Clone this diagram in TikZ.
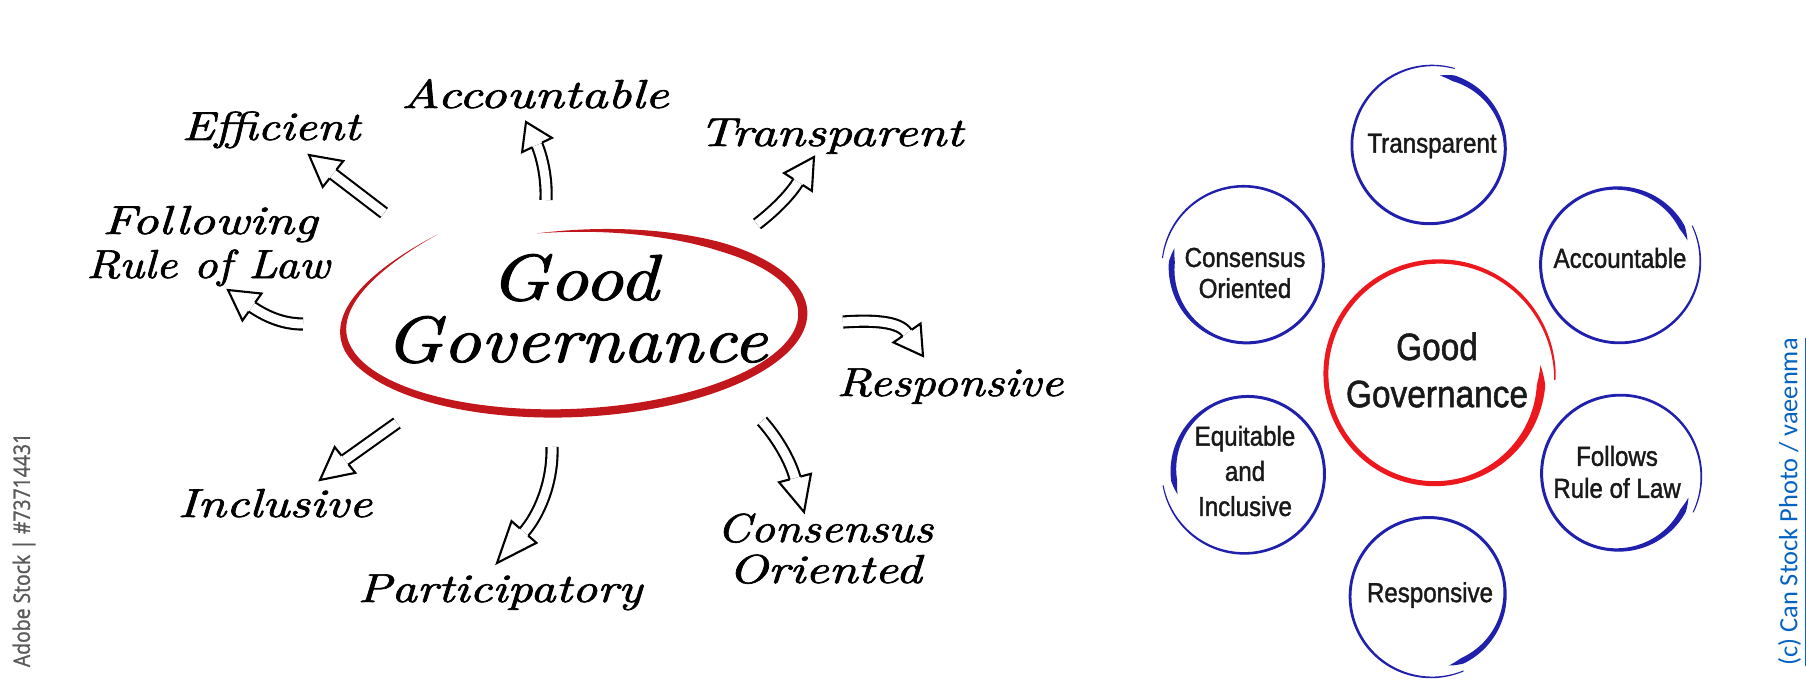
\documentclass[tikz,border=0pt]{standalone}
\usepackage{fontspec}
\usepackage{graphicx}
\usetikzlibrary{calc}

\newfontfamily\handfont{lmroman10-italic.otf}[FakeBold=1.5]
\newfontfamily\ringfont{Liberation Sans}[FakeBold=1.5]
\newfontfamily\stockfont{Open Sans}[FakeBold=1.2]
\newfontfamily\creditfont{Carlito}

\definecolor{ellred}{RGB}{192,22,28}
\definecolor{ringblue}{RGB}{32,32,172}
\definecolor{ringred}{RGB}{236,24,30}
\definecolor{creditblue}{RGB}{5,99,193}
\definecolor{stockgray}{RGB}{90,90,90}

% stretch a word horizontally to a given width, keeping its height
\newcommand\fitw[2]{\resizebox{#1}{\height}{#2}}
% slightly condensed line for the sans labels
\newcommand\narrow[1]{\scalebox{0.88}[1]{#1}}

% width of a brush ring along its length (s in 0..1): thick start, thin end
\pgfmathdeclarefunction{brushw}{4}{%
  \begingroup
    \pgfmathparse{(#2+#3*max(0,1-#1/0.22)-(#2-#4)*#1*#1*#1*#1*#1*#1)*min(1,#1/0.03)}%
    \pgfmathsmuggle\pgfmathresult
  \endgroup}

% width and vertical radius of the hand-drawn ellipse (t in degrees)
\pgfmathdeclarefunction{ellw}{1}{%
  \begingroup
    \pgfmathsetmacro\ellu{(#1-262)/333}%
    \pgfmathparse{(10-3*\ellu)*min(1,\ellu/0.15)*min(1,(1-\ellu)/0.2)}%
    \pgfmathsmuggle\pgfmathresult
  \endgroup}
\pgfmathdeclarefunction{ellry}{1}{%
  \begingroup
    \pgfmathsetmacro\ellu{(#1-262)/333}%
    \pgfmathsetmacro\ellm{max(0,(\ellu-0.75)/0.25)}%
    \pgfmathparse{91*(1+0.25*\ellm*\ellm)}%
    \pgfmathsmuggle\pgfmathresult
  \endgroup}

% #1 centre, #2 radius, #3 start angle, #4 sweep, #5 radial drift,
% #6 colour, #7 normal width, #8 extra width at start, #9 width at end
\newcommand\brushring[9]{%
  \fill[#6, shift={(#1)}]
    plot[domain=0:1, samples=200, variable=\s] ({(#2-#5/2+#5*\s+0.5*brushw(\s,#7,#8,#9))*cos(#3+(#4)*\s)},{(#2-#5/2+#5*\s+0.5*brushw(\s,#7,#8,#9))*sin(#3+(#4)*\s)})
    -- plot[domain=1:0, samples=200, variable=\s] ({(#2-#5/2+#5*\s-0.5*brushw(\s,#7,#8,#9))*cos(#3+(#4)*\s)},{(#2-#5/2+#5*\s-0.5*brushw(\s,#7,#8,#9))*sin(#3+(#4)*\s)})
    -- cycle;}

% hollow double-line arrow: #1 start, #2 #3 controls, #4 head base, #5 tip
\newcommand\hollowarrow[5]{%
  \draw[arrowshaft] (#1) .. controls #2 and #3 .. (#4);
  \draw[arrowhead] ($(#4)!0.0556cm!90:(#5)$) -- ($(#4)!0.165cm!90:(#5)$) -- (#5)
    -- ($(#4)!0.165cm!-90:(#5)$) -- ($(#4)!0.0556cm!-90:(#5)$);}

\begin{document}
\begin{tikzpicture}[x=0.01cm, y=-0.01cm,
  hand/.style={font=\handfont\fontsize{11.5}{13}\selectfont, inner sep=0pt, anchor=base},
  handbig/.style={font=\handfont\fontsize{18.5}{20}\selectfont, inner sep=0pt, anchor=base},
  ringtext/.style={font=\ringfont\fontsize{7.8}{9}\selectfont, text=black!90, align=center, inner sep=0pt},
  arrowshaft/.style={draw=black, line width=0.6pt, double=white, double distance=0.09cm},
  arrowhead/.style={draw=black, line width=0.6pt, line join=miter, miter limit=10}]

\useasboundingbox (0,0) rectangle (1806,685);
\fill[white] (0,0) rectangle (1806,685);

% ---------------- left: handwritten mind map ----------------
\fill[ellred, rotate around={2.5:(573,322)}]
  plot[domain=262:595, samples=220, variable=\t] ({573+(230+0.5*ellw(\t))*cos(\t)},{322+(ellry(\t)+0.5*ellw(\t))*sin(\t)})
  -- plot[domain=595:262, samples=220, variable=\t] ({573+(230-0.5*ellw(\t))*cos(\t)},{322+(ellry(\t)-0.5*ellw(\t))*sin(\t)})
  -- cycle;

\node[handbig] (good) at (574,300) {\fitw{1.68cm}{Good}};
\node[handbig] (gov) at (576,362) {\fitw{3.82cm}{Governance}};

\node[hand] (eff) at (271,140) {\fitw{1.78cm}{Efficient}};
\node[hand] (acc) at (535,108) {\fitw{2.67cm}{Accountable}};
\node[hand] (tra) at (831,146) {\fitw{2.64cm}{Transparent}};
\node[hand] (fol1) at (210,234) {\fitw{2.15cm}{Following}};
\node[hand] (fol2) at (208,278) {\fitw{2.43cm}{Rule of Law}};
\node[hand] (res) at (950,396) {\fitw{2.26cm}{Responsive}};
\node[hand] (inc) at (275,517) {\fitw{1.94cm}{Inclusive}};
\node[hand] (par) at (500,602) {\fitw{2.84cm}{Participatory}};
\node[hand] (con1) at (825,542) {\fitw{2.16cm}{Consensus}};
\node[hand] (con2) at (825,583) {\fitw{1.93cm}{Oriented}};

% arrow end points
\coordinate (effS) at (384,213); \coordinate (effB) at (333,174); \coordinate (effT) at (309,155);
\coordinate (accS) at (546,200); \coordinate (accB) at (537,145); \coordinate (accT) at (526,122);
\coordinate (traS) at (757,224); \coordinate (traB) at (798,182); \coordinate (traT) at (814,157);
\coordinate (folS) at (303,324); \coordinate (folB) at (252,307); \coordinate (folT) at (228,290);
\coordinate (resS) at (843,322); \coordinate (resB) at (907,333); \coordinate (resT) at (923,356);
\coordinate (incS) at (397,423); \coordinate (incB) at (345,460); \coordinate (incT) at (320,480);
\coordinate (parS) at (552,447); \coordinate (parB) at (524,532); \coordinate (parT) at (497,563);
\coordinate (conS) at (762,421); \coordinate (conB) at (795,478); \coordinate (conT) at (804,512);

\hollowarrow{effS}{(367,200)}{(350,187)}{effB}{effT}
\hollowarrow{accS}{(547,178)}{(542,157)}{accB}{accT}
\hollowarrow{traS}{(774,211)}{(790,195)}{traB}{traT}
\hollowarrow{folS}{(281,324)}{(264,315)}{folB}{folT}
\hollowarrow{resS}{(872,320)}{(899,321)}{resB}{resT}
\hollowarrow{incS}{(380,435)}{(362,448)}{incB}{incT}
\hollowarrow{parS}{(553,484)}{(538,516)}{parB}{parT}
\hollowarrow{conS}{(779,440)}{(791,463)}{conB}{conT}

\node[rotate=90, font=\stockfont\fontsize{6.5}{7}\selectfont, text=stockgray, inner sep=0pt]
  (adobe) at (24,550) {\fitw{2.34cm}{Adobe Stock | \#73714431}};

% ---------------- right: ring diagram ----------------
\coordinate (ringGG) at (1437,376);
\coordinate (ringT) at (1431,147);
\coordinate (ringC) at (1245,267);
\coordinate (ringA) at (1618,263);
\coordinate (ringF) at (1619,475);
\coordinate (ringE) at (1246,472);
\coordinate (ringR) at (1430,595);

\brushring{ringGG}{111}{-6}{368}{14}{ringred}{5}{4}{1.5}
\brushring{ringT}{77}{-83}{370}{10}{ringblue}{3}{3.5}{1}
\brushring{ringC}{78}{195}{-369}{10}{ringblue}{3}{3.5}{1}
\brushring{ringA}{78}{-18}{-369}{10}{ringblue}{3}{3.5}{1}
\brushring{ringF}{78}{18}{369}{10}{ringblue}{3}{3.5}{1}
\brushring{ringE}{78}{162}{369}{12}{ringblue}{3}{3.5}{1}
\brushring{ringR}{78}{75}{-369}{10}{ringblue}{3}{3.5}{1}

\node[ringtext, font=\ringfont\fontsize{10.8}{13.4}\selectfont] (gg) at (1437,370) {\narrow{Good}\\\narrow{Governance}};
\node[ringtext] (tr) at (1432,146) {\narrow{Transparent}};
\node[ringtext, font=\ringfont\fontsize{7.8}{8.8}\selectfont] (co) at (1245,273) {\narrow{Consensus}\\\narrow{Oriented}};
\node[ringtext] (ac) at (1620,258) {\narrow{Accountable}};
\node[ringtext, font=\ringfont\fontsize{7.8}{9.1}\selectfont] (fo) at (1617,472) {\narrow{Follows}\\\narrow{Rule of Law}};
\node[ringtext, font=\ringfont\fontsize{7.8}{10}\selectfont] (eq) at (1245,471) {\narrow{Equitable}\\\narrow{and}\\\narrow{Inclusive}};
\node[ringtext] (re) at (1430,595) {\narrow{Responsive}};

\node[rotate=90, font=\creditfont\fontsize{7.5}{8}\selectfont, text=creditblue, inner sep=0pt]
  (credit) at (1793,502) {\underline{(c) Can Stock Photo / vaeenma}};
\end{tikzpicture}
\end{document}
